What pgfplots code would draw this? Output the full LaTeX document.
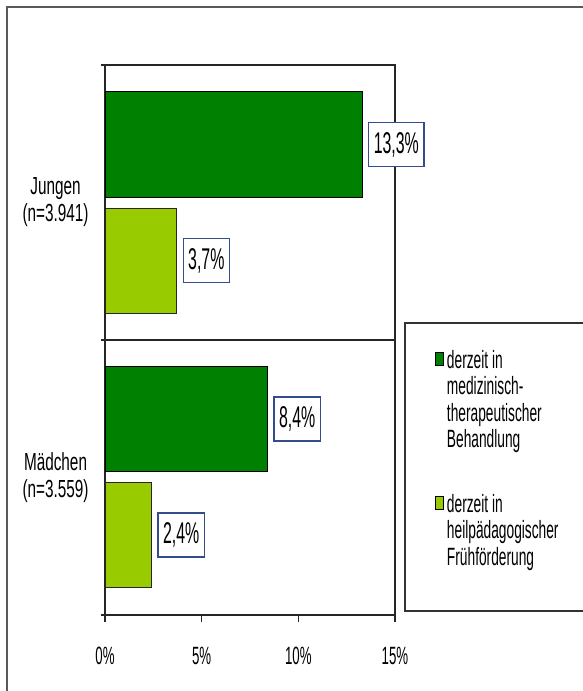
\documentclass[border=0pt]{standalone}
\usepackage{pgfplots}
\pgfplotsset{compat=1.18}
\usepackage{fontspec}
\setmainfont{Liberation Sans}
\newfontfamily\numfont{Liberation Sans}[FakeStretch=0.53]
\newfontfamily\catfont{Liberation Sans}[FakeStretch=0.62]
\newfontfamily\legfont{Liberation Sans}[FakeStretch=0.55]
\definecolor{dgreen}{RGB}{0,128,0}
\definecolor{lgreen}{RGB}{153,204,0}
\definecolor{lblue}{RGB}{51,76,140}
\begin{document}
\begin{tikzpicture}
\useasboundingbox (0,0) rectangle (582pt,691pt);
\draw[black!65, line width=1.3pt] (7pt,0) -- (7pt,684pt) -- (590pt,684pt);
\draw[black!80, line width=1.2pt] (405pt,80pt) rectangle (600pt,368pt);
\begin{axis}[
  at={(105pt,76pt)}, anchor=south west,
  scale only axis, width=290pt, height=550pt,
  xmin=0, xmax=15, ymin=-0.5, ymax=1.5,
  clip=false,
  /pgf/number format/assume math mode=true,
  axis line style={black!85, line width=1.1pt},
  tick pos=left,
  tick align=outside,
  xtick={0,5,10,15}, xticklabels={0\%,5\%,10\%,15\%},
  xtick style={black!85, line width=1.1pt, /pgfplots/major tick length=7pt},
  xticklabel style={font=\numfont\fontsize{25pt}{30pt}\selectfont, inner sep=0pt, anchor=north, yshift=-28pt},
  ytick={-0.5,0.5,1.5}, yticklabels={,,},
  ytick style={black!85, line width=1.1pt, /pgfplots/major tick length=4pt},
  ymajorgrids, major grid style={black!85, line width=1.1pt},
  extra y ticks={0,1},
  extra y tick labels={{Mädchen\\(n=3.559)},{Jungen\\(n=3.941)}},
  extra y tick style={grid=none, tick style={draw=none}},
  yticklabel style={font=\catfont\fontsize{24.7pt}{27pt}\selectfont, align=center, anchor=east, inner sep=0pt, xshift=-12pt},
  point meta=x,
  nodes near coords={\pgfmathprintnumber[fixed, fixed zerofill, precision=1, use comma]{\pgfplotspointmeta}\%},
  nodes near coords align={horizontal},
  every node near coord/.append style={font=\numfont\fontsize{30pt}{36pt}\selectfont, draw=lblue, line width=1.3pt, fill=white, text=black, anchor=west, xshift=6pt, inner xsep=5pt, inner ysep=0pt, minimum height=44pt},
  legend style={draw=none, fill=none, at={(rel axis cs:1.1379,0.4828)}, anchor=north west, inner sep=0pt, row sep=124pt, column sep=3pt, cells={anchor=base west}, nodes={inner sep=0pt}, font=\legfont\fontsize{25pt}{26.5pt}\selectfont},
]
\addplot[xbar, bar width=0.382, bar shift=0pt, fill=dgreen, draw=black, line width=0.9pt,
  legend image code/.code={\draw[fill=dgreen, draw=black, line width=0.8pt] (0pt,2.5pt) rectangle (8pt,15.5pt);}]
  coordinates {(13.3,1.211) (8.4,0.2127)};
\addlegendentry{\begin{tabular}[t]{@{}l@{}}derzeit in\\medizinisch-\\therapeutischer\\Behandlung\end{tabular}}
\addplot[xbar, bar width=0.382, bar shift=0pt, fill=lgreen, draw=black!85, line width=0.9pt,
  legend image code/.code={\draw[fill=lgreen, draw=black, line width=0.8pt] (0pt,2.5pt) rectangle (8pt,15.5pt);}]
  coordinates {(3.7,0.788) (2.4,-0.209)};
\addlegendentry{\begin{tabular}[t]{@{}l@{}}derzeit in\\heilpädagogischer\\Frühförderung\end{tabular}}
\end{axis}
\end{tikzpicture}
\end{document}
